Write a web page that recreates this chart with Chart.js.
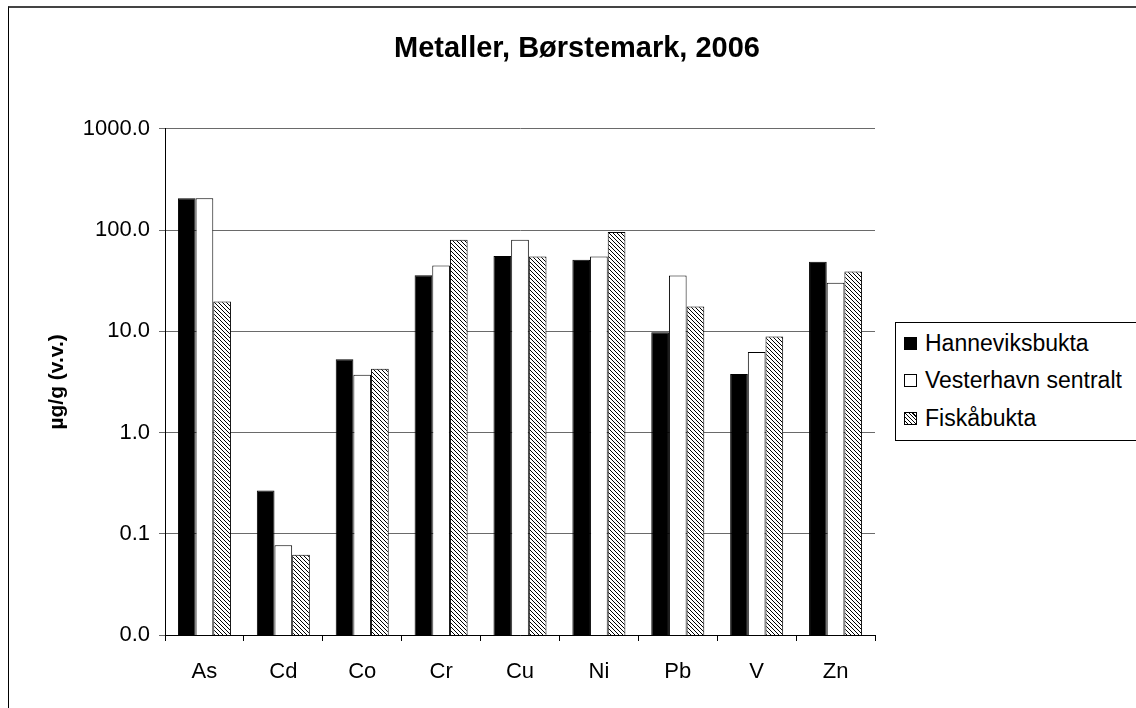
<!DOCTYPE html>
<html>
<head>
<meta charset="utf-8">
<script src="https://cdn.jsdelivr.net/npm/chart.js@4"></script>
<style>
  body { margin: 0; background: #fff; }
  #wrap { position: absolute; left: 0; top: 0; width: 1136px; height: 708px; overflow: hidden; }
  #frame { position: absolute; left: 8px; top: 6px; width: 2000px; height: 2000px;
           border-top: 2px solid #444; border-left: 1px solid #000; }
  #box { position: absolute; left: 0; top: 0; width: 1136px; height: 708px; }
  #legend { position: absolute; left: 895px; top: 322px; width: 280px; height: 117px;
            border: 1px solid #000; background: #fff;
            font-family: "Liberation Sans", Arial, sans-serif; font-size: 23px; color: #000; }
  .item { position: absolute; left: 8px; height: 26px; line-height: 26px; white-space: nowrap; }
  .sw { display: inline-block; width: 11px; height: 11px; border: 1px solid #000;
        margin-right: 8px; vertical-align: 1px; }
</style>
</head>
<body>
<div id="wrap">
  <div id="frame"></div>
  <div id="box"><canvas id="chart"></canvas></div>
  <div id="legend"></div>
</div>
<script>
const categories = ['As', 'Cd', 'Co', 'Cr', 'Cu', 'Ni', 'Pb', 'V', 'Zn'];
const seriesNames = ['Hanneviksbukta', 'Vesterhavn sentralt', 'Fiskåbukta'];
const hanneviksbukta = [206, 0.268, 5.3, 35.8, 55.3, 50.9, 9.8, 3.78, 48.7];
const vesterhavn = [206, 0.077, 3.72, 44.7, 80.3, 54.9, 35.6, 6.24, 30.2];
const fiskaabukta = [19.7, 0.062, 4.27, 80.3, 54.9, 95.5, 17.6, 8.87, 39.0];
const yTicks = [0.01, 0.1, 1, 10, 100, 1000];

Chart.defaults.font.family = '"Liberation Sans", Arial, sans-serif';
Chart.defaults.color = '#000';

// diagonal hatch for the third series
function makeHatch() {
    const c = document.createElement('canvas');
    c.width = 4; c.height = 4;
    const g = c.getContext('2d');
    g.fillStyle = '#fff';
    g.fillRect(0, 0, 4, 4);
    g.strokeStyle = '#000';
    g.lineWidth = 1;
    g.beginPath();
    for (let k = -1; k <= 1; k++) {
        g.moveTo(-1, k * 4 - 1);
        g.lineTo(5, k * 4 + 5);
    }
    g.stroke();
    return g.createPattern(c, 'repeat');
}
const hatch = makeHatch();

const ctx = document.getElementById('chart').getContext('2d');
const chart = new Chart(ctx, {
    type: 'bar',
    data: {
        labels: categories,
        datasets: [
            { label: seriesNames[0], data: hanneviksbukta, backgroundColor: '#000', borderColor: '#000', borderWidth: 1 },
            { label: seriesNames[1], data: vesterhavn, backgroundColor: '#fff', borderColor: '#000', borderWidth: 1 },
            { label: seriesNames[2], data: fiskaabukta, backgroundColor: hatch, borderColor: '#000', borderWidth: 1 }
        ]
    },
    options: {
        responsive: true,
        maintainAspectRatio: false,
        animation: false,
        categoryPercentage: 0.672,
        barPercentage: 1,
        layout: { padding: { left: 18, right: 0, top: 0, bottom: 0 } },
        plugins: {
            legend: { display: false },
            tooltip: { enabled: false },
            title: {
                display: true,
                text: 'Metaller, Børstemark, 2006',
                font: { size: 29, weight: 'bold' },
                color: '#000',
                padding: { top: 32, bottom: 62 }
            }
        },
        scales: {
            x: {
                offset: true,
                grid: { display: true, drawOnChartArea: false, offset: true, tickLength: 6, color: '#000' },
                border: { color: '#000', width: 1 },
                ticks: { font: { size: 22 }, padding: 18, color: '#000' },
                afterFit: s => { s.height = 73; }
            },
            y: {
                type: 'logarithmic',
                min: 0.01,
                max: 1000,
                grid: { color: '#6a6a6a', tickLength: 6 },
                border: { color: '#000', width: 1 },
                ticks: {
                    font: { size: 22 },
                    padding: 9,
                    color: '#000',
                    callback: v => Number(v).toFixed(1)
                },
                afterBuildTicks: s => { s.ticks = yTicks.map(v => ({ value: v })); },
                title: {
                    display: true,
                    text: 'µg/g (v.v.)',
                    font: { size: 21, weight: 'bold' },
                    color: '#000',
                    padding: { top: 27, bottom: 0 }
                },
                afterFit: s => { s.width = 147; }
            },
            // empty right-hand space reserved for the legend
            yR: {
                position: 'right',
                display: true,
                grid: { display: false },
                border: { display: false },
                ticks: { display: false },
                afterFit: s => { s.width = 261; }
            }
        }
    }
});

// legend
const legend = document.getElementById('legend');
const swatches = ['background:#000', 'background:#fff',
    'background:repeating-linear-gradient(45deg,#fff 0 1.5px,#000 1.5px 2.8px)'];
const rowTops = [7, 44, 82];
seriesNames.forEach((name, i) => {
    const row = document.createElement('div');
    row.className = 'item';
    row.style.top = rowTops[i] + 'px';
    row.innerHTML = '<span class="sw" style="' + swatches[i] + '"></span>' + name;
    legend.appendChild(row);
});
</script>
</body>
</html>
